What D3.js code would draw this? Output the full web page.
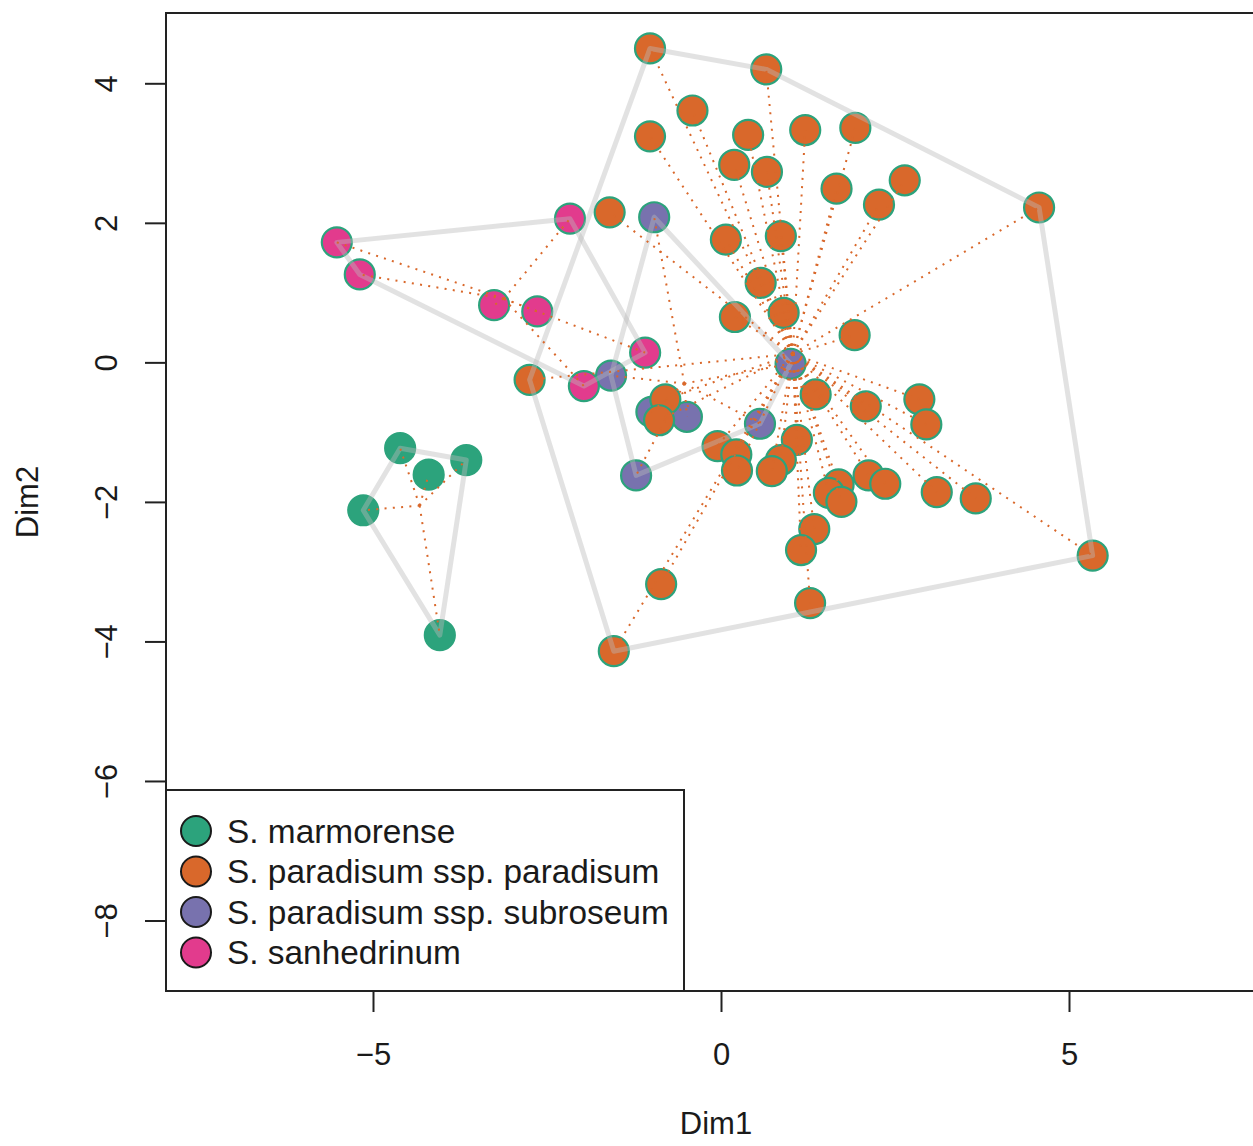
<!DOCTYPE html>
<html>
<head>
<meta charset="utf-8">
<script src="https://cdn.jsdelivr.net/npm/d3@7"></script>
<style>
body { margin: 0; background: #fff; }
text { font-family: "Liberation Sans", Arial, sans-serif; fill: #1a1a1a; }
</style>
</head>
<body>
<svg id="chart" width="1253" height="1146"></svg>
<script>
// groups, in legend order
const groups = ["S. marmorense", "S. paradisum ssp. paradisum", "S. paradisum ssp. subroseum", "S. sanhedrinum"];
const groupColors = ["#2ca37c", "#d9682b", "#7872ae", "#e23b8d"];

// Dim1 / Dim2 scores
const marmorenseX = [-4.61, -4.20, -3.66, -5.14, -4.04];
const marmorenseY = [-1.23, -1.61, -1.40, -2.12, -3.91];

const paradisumX = [-1.02, 0.65, -0.41, -1.02, 0.39, 1.21, 1.93, 0.19, 0.66, 1.66, 2.64, 2.27, 4.57, -1.60,
  0.07, 0.86, 0.57, 0.20, 0.90, 1.92, -2.75, -0.80, -0.89, 1.36, 2.08, 2.85, 2.95, -0.05, 0.22, 0.23,
  1.09, 0.86, 0.73, 1.69, 2.12, 2.36, 1.55, 1.73, 3.10, 3.66, 1.34, 1.15, 1.28, 5.34, -0.86, -1.54];
const paradisumY = [4.50, 4.20, 3.61, 3.24, 3.26, 3.33, 3.36, 2.83, 2.73, 2.49, 2.61, 2.26, 2.22, 2.15,
  1.76, 1.81, 1.14, 0.65, 0.71, 0.39, -0.25, -0.53, -0.83, -0.46, -0.63, -0.53, -0.89, -1.20, -1.32, -1.55,
  -1.11, -1.40, -1.56, -1.75, -1.62, -1.74, -1.87, -2.00, -1.86, -1.95, -2.39, -2.69, -3.45, -2.77, -3.18, -4.14];

const subroseumX = [-0.96, -1.58, -1.22, -1.00, -0.49, 0.56, 1.00];
const subroseumY = [2.08, -0.19, -1.62, -0.71, -0.78, -0.88, -0.02];

const sanhedrinumX = [-5.52, -5.19, -3.26, -2.64, -2.17, -1.97, -1.09];
const sanhedrinumY = [1.72, 1.26, 0.82, 0.73, 2.06, -0.34, 0.14];

const xTicks = [-5, 0, 5];
const yTicks = [-8, -6, -4, -2, 0, 2, 4];

const groupX = [marmorenseX, paradisumX, subroseumX, sanhedrinumX];
const groupY = [marmorenseY, paradisumY, subroseumY, sanhedrinumY];

const data = groups.map((g, gi) => ({
  name: g,
  color: groupColors[gi],
  pts: groupX[gi].map((v, i) => [v, groupY[gi][i]])
}));

const svg = d3.select("#chart");
const x = d3.scaleLinear().domain([-5, 5]).range([373, 1069]);
const y = d3.scaleLinear().domain([-8, 4]).range([920.5, 83.3]);
const plotLeft = 166, plotTop = 13, plotBottom = 991;
const minus = d => String(d).replace("-", "\u2212");

// points (purple first so the others sit over it)
const drawOrder = [2, 0, 1, 3];
const gPts = svg.append("g");
drawOrder.forEach(gi => {
  gPts.selectAll(null)
    .data(data[gi].pts)
    .enter()
    .append("circle")
    .attr("cx", d => x(d[0]))
    .attr("cy", d => y(d[1]))
    .attr("r", 15)
    .attr("fill", data[gi].color)
    .attr("stroke", "#2ca37c")
    .attr("stroke-width", 2.2);
});

// hulls
const gHull = svg.append("g");
data.forEach(gr => {
  const hull = d3.polygonHull(gr.pts.map(p => [x(p[0]), y(p[1])]));
  gHull.append("path")
    .attr("d", "M" + hull.join("L") + "Z")
    .attr("fill", "none")
    .attr("stroke", "rgba(185,185,185,0.42)")
    .attr("stroke-width", 5)
    .attr("stroke-linejoin", "round");
});

// spiders to group centroids
const gSpider = svg.append("g");
data.forEach(gr => {
  const cx = d3.mean(gr.pts, p => p[0]);
  const cy = d3.mean(gr.pts, p => p[1]);
  gSpider.selectAll(null)
    .data(gr.pts)
    .enter()
    .append("line")
    .attr("x1", x(cx)).attr("y1", y(cy))
    .attr("x2", d => x(d[0])).attr("y2", d => y(d[1]))
    .attr("stroke", "#d9682b")
    .attr("stroke-width", 2)
    .attr("stroke-dasharray", "2,6.3");
});

// plot box (right side runs out of the picture)
svg.append("path")
  .attr("d", `M1300,${plotTop}H${plotLeft}V${plotBottom}H1300`)
  .attr("fill", "none")
  .attr("stroke", "#222")
  .attr("stroke-width", 2);

// axes
const xAxis = svg.append("g")
  .attr("transform", `translate(0,${plotBottom})`)
  .call(d3.axisBottom(x).tickValues(xTicks).tickSize(21).tickPadding(31).tickFormat(minus));
xAxis.select(".domain").remove();
xAxis.selectAll("line").attr("stroke", "#222").attr("stroke-width", 2);
xAxis.selectAll("text").attr("font-size", 31).attr("font-family", "Liberation Sans, Arial, sans-serif").attr("fill", "#1a1a1a");

const yAxis = svg.append("g")
  .attr("transform", `translate(${plotLeft},0)`)
  .call(d3.axisLeft(y).tickValues(yTicks).tickSize(21).tickFormat(minus));
yAxis.select(".domain").remove();
yAxis.selectAll("line").attr("stroke", "#222").attr("stroke-width", 2);
yAxis.selectAll("text")
  .attr("font-size", 31)
  .attr("font-family", "Liberation Sans, Arial, sans-serif")
  .attr("fill", "#1a1a1a")
  .attr("transform", "rotate(-90)")
  .attr("text-anchor", "middle")
  .attr("x", 0)
  .attr("y", -60)
  .attr("dy", "0.35em");

svg.append("text")
  .attr("x", 716).attr("y", 1123).attr("dy", "0.35em")
  .attr("text-anchor", "middle")
  .attr("font-size", 31)
  .text("Dim1");

svg.append("text")
  .attr("transform", `translate(27,${(plotTop + plotBottom) / 2}) rotate(-90)`)
  .attr("dy", "0.35em")
  .attr("text-anchor", "middle")
  .attr("font-size", 31)
  .text("Dim2");

// legend
const lg = svg.append("g");
lg.append("rect")
  .attr("x", plotLeft).attr("y", 790)
  .attr("width", 684 - plotLeft).attr("height", plotBottom - 790)
  .attr("fill", "#fff")
  .attr("stroke", "#222")
  .attr("stroke-width", 2);
const rows = lg.selectAll("g.row")
  .data(data)
  .enter()
  .append("g")
  .attr("class", "row")
  .attr("transform", (d, i) => `translate(0,${831 + i * 40.5})`);
rows.append("circle")
  .attr("cx", 196).attr("cy", 0).attr("r", 15)
  .attr("fill", d => d.color)
  .attr("stroke", "#1a1a1a")
  .attr("stroke-width", 2);
rows.append("text")
  .attr("x", 227).attr("y", 0).attr("dy", "0.35em")
  .attr("font-size", 33.4)
  .text(d => d.name);
</script>
</body>
</html>
